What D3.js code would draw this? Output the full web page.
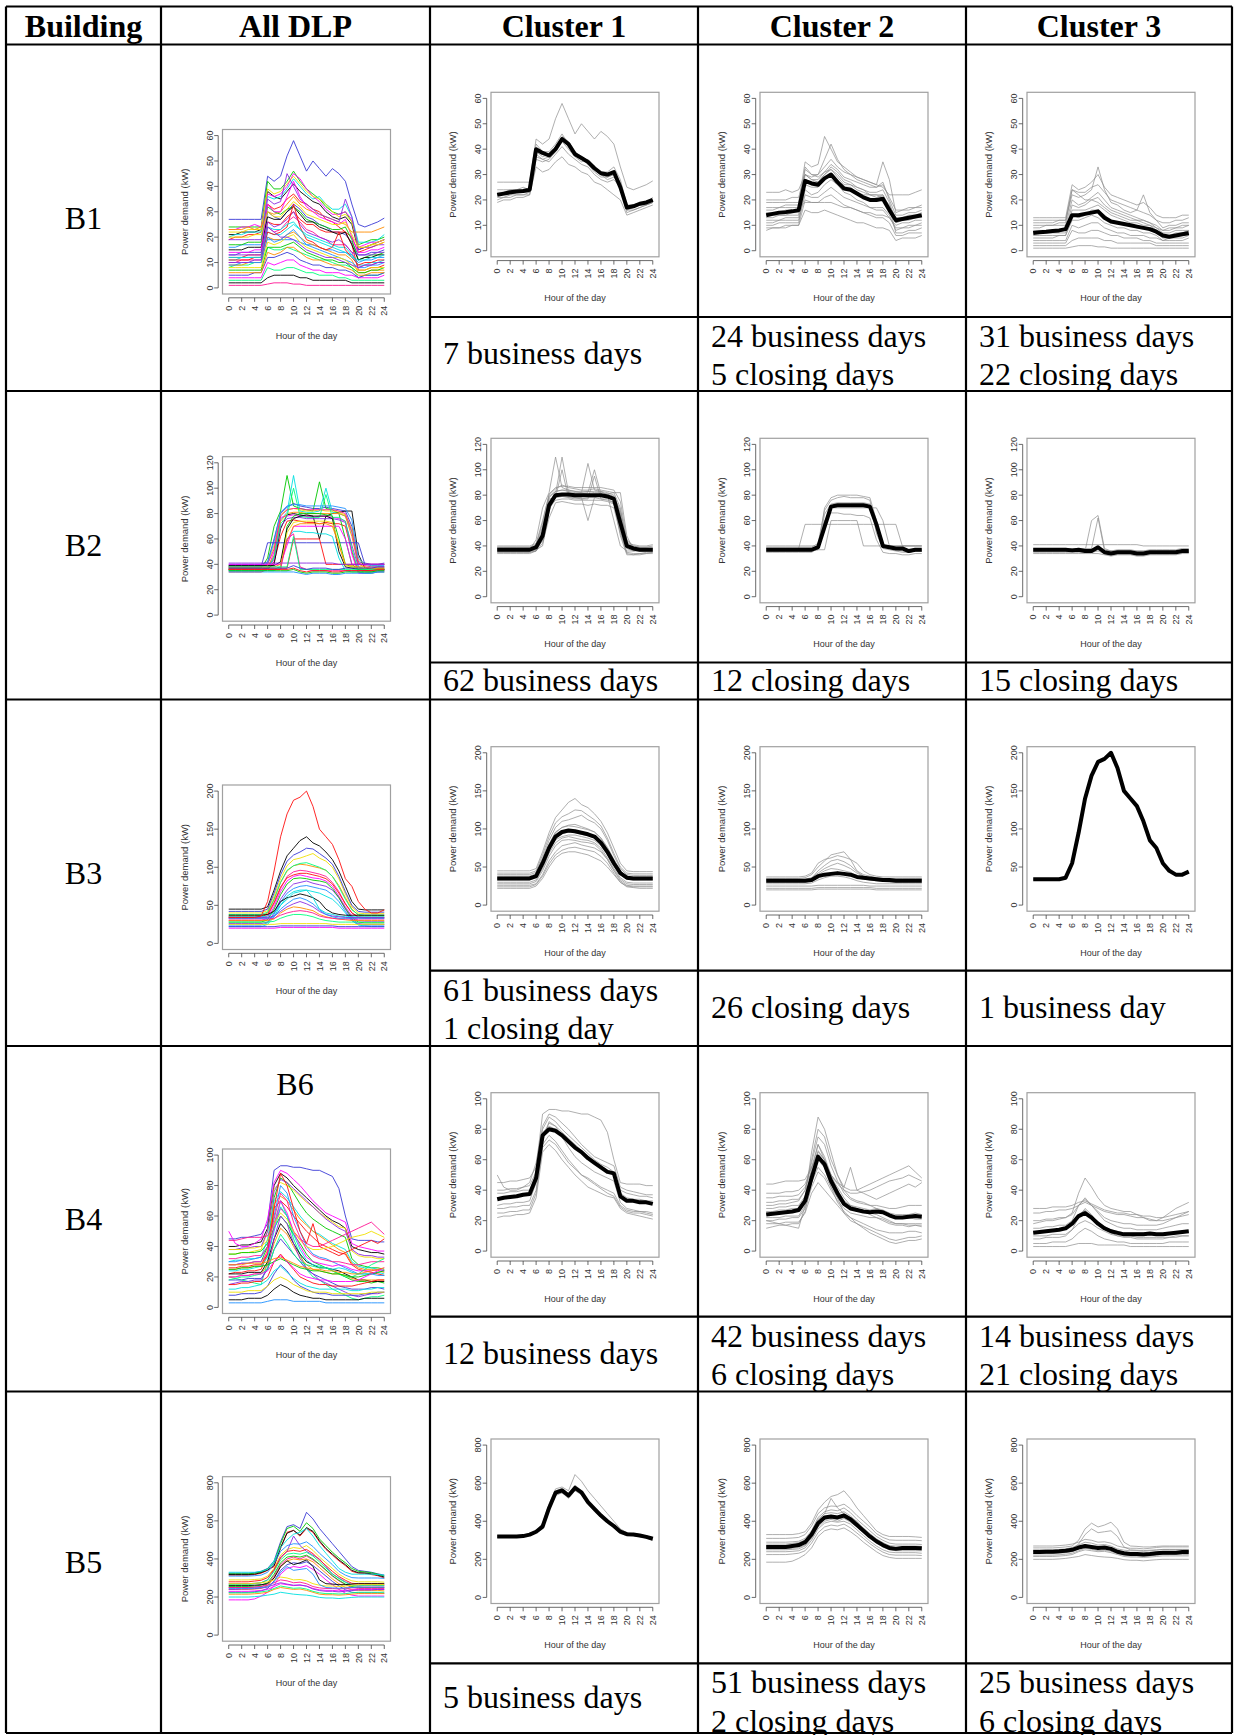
<!DOCTYPE html>
<html>
<head>
<meta charset="utf-8">
<script src="https://cdn.jsdelivr.net/npm/d3@7"></script>
<style>
body { margin: 0; background: #fff; }
svg text { font-family: "Liberation Sans", Arial, sans-serif; }
.tbl { font-family: "Liberation Serif", "Times New Roman", serif; font-size: 32px; fill: #000; }
</style>
</head>
<body>
<svg id="fig" width="1234" height="1735"></svg>
<script>
// ---- table text ----
var headers = ["Building", "All DLP", "Cluster 1", "Cluster 2", "Cluster 3"];
var buildings = ["B1", "B2", "B3", "B4", "B5"];
var notes = [
  [["7 business days"], ["24 business days", "5 closing days"], ["31 business days", "22 closing days"]],
  [["62 business days"], ["12 closing days"], ["15 closing days"]],
  [["61 business days", "1 closing day"], ["26 closing days"], ["1 business day"]],
  [["12 business days"], ["42 business days", "6 closing days"], ["14 business days", "21 closing days"]],
  [["5 business days"], ["51 business days", "2 closing days"], ["25 business days", "6 closing days"]]
];

// ---- axes ----
var hours = [0,1,2,3,4,5,6,7,8,9,10,11,12,13,14,15,16,17,18,19,20,21,22,23,24];
var xTicks = [0,2,4,6,8,10,12,14,16,18,20,22,24];
var yMax = [60, 120, 200, 100, 800];
var yStep = [10, 20, 50, 20, 200];

// ---- B1 ----
var b1c1Mean = [22,22.5,23,23.3,23.5,24,40,38.5,37.5,40,44,42,38,36.5,35,32.5,30.5,30,31,25,17,17.5,18.5,19,20];
var b1c1Days = [
  [27,27,27,27,27,27,44,42,44,52,58,52,46,50,47,44,47,45,42,33,25,24,25,26,27.5],
  [19,20,20,21,21,22,33,31,32,35,37,34,33,31,30,27,26,24,22,20,14,15,16,17,18],
  [24,24,24,24,24,24,42,39,39,42,46,42,39,37,35,32,30,29,30,26,17,18,19,19,20],
  [21,21,22,22,22,23,38,36,35,38,41,38,36,34,33,30,28,27,28,25,15,16,17,18,19],
  [20,21,21,22,22,22,36,35,36,39,43,40,37,35,36,33,31,31,33,28,18,18,18,19,21],
  [23,23,24,24,25,24,37,36,37,40,45,43,39,36,34,31,29,29,30,27,16,17,18,18,19],
  [22,22,22,23,23,23,39,37,38,41,44,41,38,36,35,33,30,28,29,26,16,16,17,18,19]
];
var b1c2Mean = [14,14.5,15,15.2,15.5,16,27.5,26.5,26,28.5,30,27,24.5,24,22.5,21,20,20,20.5,16,12,12.5,13,13.5,14];
var b1c2Days = [
  [23,23,23,24,23,24,30,29,30,33,36,33,31,30,29,28,27,26,25,22,22,22,22,23,24],
  [19,19,19,19,19,19,35,33,34,45,40,35,33,31,29,28,27,26,35,28,15,16,16,17,17],
  [10,10,11,11,11,11,24,22,23,26,28,26,23,22,20,19,17,17,17,14,8,9,9,10,10],
  [8,9,9,9,10,10,16,15,15,16,15,14,13,12,11,11,10,9,9,8,4,5,5,5,6],
  [16,16,17,17,17,17,19,19,19,19,19,18,17,17,16,15,15,14,14,13,10,11,11,12,12],
  [13,13,14,14,14,14,30,28,27,30,33,31,28,27,25,24,22,22,21,18,13,13,14,14,15],
  [12,12,12,13,13,13,26,25,25,28,30,27,25,25,23,22,22,22,22,17,7,7,8,8,9],
  [17,17,17,18,18,18,32,30,29,31,32,30,27,26,25,24,23,23,24,19,11,12,13,13,14],
  [15,15,15,16,16,16,28,27,27,30,32,29,26,26,24,23,22,21,22,17,11,12,12,13,13],
  [11,11,12,12,12,12,22,21,21,23,25,23,21,20,19,18,17,16,16,13,9,9,10,10,11],
  [14,14,14,14,15,15,33,30,30,36,42,36,32,30,28,27,26,25,27,20,14,14,15,15,16],
  [20,20,20,20,21,21,30,28,28,31,34,32,29,28,27,26,25,25,26,21,16,16,17,17,18],
  [9,9,9,10,10,10,20,19,19,21,22,20,18,17,16,15,14,13,13,11,6,6,7,7,7]
];
var b1c3Mean = [7,7.3,7.5,7.8,8,8.5,14,14,14.5,15,15.5,13,11.5,11,10.5,10,9.5,9,8.5,7.5,6,5.5,6,6.5,7];
var b1c3Days = [
  [13,13,13,13,13,13,26,24,25,27,30,25,22,21,20,19,18,19,17,14,13,13,13,14,14],
  [1,1,1,1,1,1,1.5,2,2,2,1.5,1.5,1,1,1,1,1,1,1,1,1,1,1,1,1],
  [3,3,3,3,3,3,8,7,7,8,8,7,6,6,5,5,5,4,4,3,3,3,3,3,3],
  [9,9,10,10,10,10,20,18,19,21,23,20,17,16,15,14,13,12,11,10,8,8,9,9,10],
  [5,5,5,5,6,6,12,12,13,14,13,11,10,9,9,8,8,7,7,6,4,5,5,5,6],
  [11,11,11,11,12,12,22,21,22,24,33,24,19,18,16,15,16,22,15,12,9,10,10,11,11],
  [7,7,7,7,7,7,16,16,16,17,18,16,14,13,12,11,11,10,10,8,6,6,7,7,8],
  [2,2,2,2,2,2,4,5,5,5,5,4,4,3,3,3,3,3,3,2,2,2,2,2,2],
  [12,12,12,12,12,12,24,23,23,25,26,23,20,19,18,17,16,15,14,12,11,11,12,12,13],
  [4,4,4,4,4,4,10,9,10,11,11,9,8,7,7,6,6,6,5,5,4,4,4,4,5],
  [8,8,8,8,8,8,18,17,18,20,21,18,16,15,14,13,12,12,11,9,7,7,8,8,8],
  [6,6,6,6,6,6,14,13,14,16,16,14,12,11,11,10,9,9,8,7,5,5,6,6,6],
  [10,10,10,10,11,11,24,22,20,20,19,17,15,14,13,12,12,11,10,9,8,9,9,10,10]
];

// ---- B2 ----
var b2c1Mean = [37,37,37,37,37,37,39,48,72,80,80.5,80.5,80,80,80,80,80,79,77,58,40,38,37,37,37];
var b2c1Days = [
  [40,40,40,40,40,40,42,60,80,85,88,86,85,84,84,85,84,83,82,70,42,41,40,40,41],
  [34,34,34,34,34,34,36,42,62,74,75,74,73,73,72,73,72,72,70,50,34,33,33,34,34],
  [37,37,37,37,37,37,45,70,82,110,86,84,83,82,105,84,83,80,60,40,36,36,37,37,37],
  [36,36,36,36,36,36,37,40,68,79,80,79,78,78,60,78,80,81,82,82,48,37,36,36,36],
  [38,38,38,38,38,38,38,45,75,81,110,82,81,81,82,100,81,80,78,65,38,37,38,38,38],
  [35,35,35,35,35,35,36,50,77,78,79,78,78,77,78,78,77,76,74,48,33,33,34,34,35],
  [39,39,39,39,39,39,40,55,79,83,84,83,82,82,83,82,82,81,79,68,44,40,39,39,40],
  [37,37,37,37,37,37,38,47,74,80,81,81,80,80,80,80,80,80,78,62,40,38,37,37,37],
  [36,36,36,36,36,36,37,44,70,76,77,77,76,76,76,76,76,75,73,55,38,36,36,36,36],
  [38,38,38,38,38,38,40,52,78,83,84,84,83,83,83,83,83,82,80,66,41,39,38,38,38],
  [35,35,35,35,35,35,36,46,72,78,100,78,77,77,77,95,77,77,74,52,35,34,34,35,35],
  [39,39,39,39,39,39,41,58,81,86,87,87,86,86,86,86,86,85,84,75,45,40,39,39,39]
];
var b2c2Mean = [37,37,37,37,37,37,37,37,39,55,71,72,72,72,72,72,71,57,40,39,38,38,36,37,37];
var b2c2Days = [
  [38,38,38,38,38,38,57,57,57,57,57,57,57,57,57,57,57,57,57,57,57,40,40,40,40],
  [37,37,37,37,37,37,37,37,37,37,60,60,60,60,60,40,40,40,40,40,40,40,40,40,40],
  [36,36,36,36,36,36,36,36,38,70,78,80,80,80,80,79,78,60,40,38,37,36,35,36,36],
  [39,39,39,39,39,39,39,39,42,68,76,78,79,78,78,78,76,50,38,37,36,35,35,36,36],
  [35,35,35,35,35,35,35,35,38,60,66,66,65,65,64,64,62,45,35,34,34,33,33,34,34],
  [40,40,40,40,40,40,40,40,40,55,70,70,70,70,70,70,70,70,60,40,40,40,40,40,40],
  [36,36,36,36,36,36,36,36,37,65,73,74,74,74,74,74,73,56,39,38,37,37,35,36,36],
  [38,38,38,38,38,38,38,38,40,58,70,72,72,72,72,72,70,55,40,39,38,38,36,37,37]
];
var b2c3Mean = [37,37,37,37,37,37,36.5,37,36,36,39,35,34,35,35,35,34,34,35,35,35,35,35,36,36];
var b2c3Days = [
  [41,41,41,41,41,41,41,41,41,41,41,41,41,41,41,41,41,40,40,40,40,40,40,40,40],
  [36,36,36,36,36,36,36,36,36,60,64,38,36,35,35,35,35,35,35,35,35,35,35,35,35],
  [38,38,38,38,38,38,38,38,38,38,62,36,36,36,36,36,36,36,36,36,36,36,36,36,36],
  [34,34,34,34,34,34,34,34,34,34,34,33,32,33,33,33,32,32,33,33,33,33,33,34,34],
  [37,37,37,37,37,37,37,37,37,37,39,37,36,37,37,37,36,36,37,37,37,37,37,38,38],
  [36,36,36,36,36,36,36,36,36,36,37,35,34,35,35,35,34,34,35,35,35,35,35,36,36],
  [35,35,35,35,35,35,35,35,35,35,36,34,33,34,34,34,33,33,34,34,34,34,34,35,35]
];

// ---- B3 ----
var b3c1Mean = [35,35,35,35,35,35,38,55,75,90,96,98,97,95,93,90,82,70,55,42,36,35,35,35,35];
var b3c1Days = [
  [45,45,45,45,45,45,48,70,95,115,125,135,140,132,128,120,110,95,75,55,45,44,44,44,44],
  [22,22,22,22,22,22,25,35,50,62,68,70,70,68,66,62,58,50,40,30,24,23,22,22,22],
  [30,30,30,30,30,30,33,48,68,82,88,90,88,86,85,82,75,62,48,36,30,29,29,29,29],
  [40,40,40,40,40,40,43,62,85,102,110,112,115,118,112,108,100,85,65,48,40,39,39,39,39],
  [36,36,36,36,36,36,40,58,80,95,102,104,103,101,99,96,88,76,60,45,37,36,36,36,36],
  [26,26,26,26,26,26,28,40,58,70,78,80,82,79,77,75,70,60,45,32,26,25,25,25,25],
  [33,33,33,33,33,33,36,52,72,88,94,96,95,93,91,88,80,68,52,40,34,33,33,33,33],
  [38,38,38,38,38,38,41,58,80,96,102,105,106,103,100,96,88,74,58,44,38,37,37,37,37],
  [24,24,24,24,24,24,27,38,54,66,72,75,76,74,72,70,64,55,42,30,25,24,24,24,24],
  [42,42,42,42,42,42,45,66,90,108,116,120,125,124,118,112,104,88,68,50,42,41,41,41,41],
  [35,35,35,35,35,35,38,54,74,86,90,92,92,90,88,85,78,66,52,40,35,34,34,34,34],
  [28,28,28,28,28,28,31,45,64,78,85,86,85,83,82,80,72,60,46,34,28,27,27,27,27]
];
var b3c2Mean = [32,32,32,32,32,32,32,33,38,40,41,42,41,40,37,36,35,34,33,33,32,32,32,32,32];
var b3c2Days = [
  [37,37,37,37,37,37,38,42,55,60,62,65,63,60,55,45,40,38,37,37,37,37,37,37,37],
  [35,35,35,35,35,35,36,40,50,58,66,68,70,60,45,40,38,36,35,35,35,35,35,35,35],
  [20,20,20,20,20,20,20,20,21,21,21,21,21,21,21,21,21,20,20,20,20,20,20,20,20],
  [25,25,25,25,25,25,25,25,26,26,26,26,26,26,26,26,25,25,25,25,25,25,25,25,25],
  [30,30,30,30,30,30,30,32,40,45,48,47,45,43,38,35,33,32,31,30,30,30,30,30,30],
  [34,34,34,34,34,34,34,36,42,48,52,55,52,48,42,38,36,35,34,34,34,34,34,34,34],
  [32,32,32,32,32,32,32,33,37,40,42,43,42,40,36,34,33,32,32,32,32,32,32,32,32],
  [28,28,28,28,28,28,28,29,33,36,38,38,37,35,32,30,29,28,28,28,28,28,28,28,28],
  [33,33,33,33,33,33,33,35,45,52,58,60,57,52,44,38,35,33,33,33,33,33,33,33,33],
  [22,22,22,22,22,22,22,22,23,23,23,23,23,23,23,23,23,22,22,22,22,22,22,22,22]
];
var b3c3Mean = [34,34,34,34,34,36,55,95,140,170,188,192,200,180,150,140,130,110,85,75,55,45,40,40,44];
var b3c3Days = [
  [34,34,34,34,34,36,55,95,140,170,188,192,200,180,150,140,130,110,85,75,55,45,40,40,44]
];

// ---- B4 ----
var b4c1Mean = [34,35,35.5,36,37,37.5,48,76,80,79,76,72,68,65,61,58,55,52,51,36,33,33,32,32,31];
var b4c1Days = [
  [45,45,46,46,47,48,55,90,93,93,92,92,91,90,90,88,86,78,60,45,44,44,44,43,43],
  [22,23,23,24,24,25,35,65,70,66,60,55,50,46,42,40,38,36,35,28,25,24,23,22,21],
  [28,28,29,29,30,30,40,72,85,82,75,68,62,58,55,52,50,48,46,32,28,27,26,26,25],
  [40,40,41,41,42,43,52,80,88,85,80,76,72,68,64,60,57,55,52,40,38,37,36,36,35],
  [30,31,31,32,32,33,45,70,76,72,66,60,55,50,48,45,42,40,38,30,27,26,26,25,24],
  [50,42,40,40,42,45,58,82,90,88,84,80,75,70,66,62,60,58,56,42,40,39,38,37,37],
  [35,35,36,36,37,38,50,78,82,80,77,73,69,66,62,59,56,53,52,37,34,33,33,32,32],
  [25,25,26,26,27,27,38,68,73,70,64,58,54,50,47,44,41,38,36,29,26,25,25,24,23],
  [38,38,39,39,40,40,50,76,84,82,78,74,70,66,62,58,55,52,50,38,35,34,34,33,33]
];
var b4c2Mean = [24,24.5,25,25.5,26,27,33,48,62,57,46,38,31,28,27,26,25.5,26,25.5,23.5,22,22,22.5,23,22.5];
var b4c2Days = [
  [44,44,45,46,46,46,47,55,65,60,50,45,42,40,40,42,44,46,48,50,52,54,56,52,48],
  [20,19,18,17,16,15,30,55,70,60,45,35,25,20,18,15,12,10,8,6,5,6,7,7,8],
  [30,30,31,31,32,33,40,60,80,75,60,50,40,35,33,32,30,28,26,24,22,22,22,21,21],
  [18,18,18,19,19,19,25,38,45,40,35,30,25,22,20,18,16,14,13,12,12,12,13,13,12],
  [26,26,27,27,28,28,35,65,88,80,65,50,42,55,40,38,36,34,36,38,40,42,44,42,45],
  [35,35,36,36,36,37,42,52,60,55,48,42,35,30,28,26,24,22,20,18,17,17,16,17,16],
  [22,22,22,23,23,23,30,45,55,50,42,35,30,28,26,26,25,24,22,20,18,18,17,17,17],
  [24,24,25,25,26,27,33,50,66,60,48,38,31,28,27,26,25,26,25,23,22,22,22,23,22],
  [28,28,29,29,30,30,36,52,70,62,50,40,33,30,29,28,27,28,27,25,24,24,24,25,24],
  [38,38,38,39,39,40,44,55,62,58,50,44,40,38,38,39,40,42,44,46,47,48,50,48,46],
  [20,20,21,21,22,22,28,42,52,48,40,33,28,25,24,23,22,22,21,19,18,18,18,18,18],
  [15,16,17,17,18,18,26,45,60,55,42,32,26,22,18,16,14,12,10,8,7,8,9,9,10],
  [32,32,33,33,34,34,40,58,75,70,56,46,38,34,32,31,30,30,29,28,28,29,30,30,30]
];
var b4c3Mean = [12,12.5,13,13.5,14,15,18,23,25,22,18,15,13,12,11,11,11,11,11.5,11,11,11.5,12,12.5,13];
var b4c3Days = [
  [18,19,20,20,21,22,25,38,48,42,35,30,28,27,26,26,24,22,20,20,22,25,28,30,32],
  [3,3,3,3,3,3,4,5,5,5,4,4,4,4,4,3,3,3,3,3,3,3,3,3,3],
  [8,8,9,9,9,10,14,22,28,24,18,14,12,10,9,9,8,8,8,8,8,9,9,10,10],
  [15,15,16,16,17,17,20,30,35,30,25,20,18,16,15,15,14,14,14,14,15,16,17,18,18],
  [25,25,26,26,27,27,28,30,32,30,28,26,25,24,24,23,22,22,21,20,20,21,22,23,24],
  [5,5,5,6,6,6,8,12,15,13,10,8,7,6,6,5,5,5,5,5,5,6,6,6,6],
  [12,12,13,13,14,15,18,24,27,23,19,16,14,13,12,12,12,12,12,11,11,12,12,13,13],
  [20,20,21,21,22,22,24,30,34,30,26,22,20,19,18,18,17,17,17,17,18,20,22,24,26],
  [10,10,10,11,11,11,14,18,20,18,15,13,11,10,10,10,9,9,9,9,9,9,10,10,10],
  [28,28,28,29,29,29,30,32,33,31,29,27,26,25,25,24,24,23,23,22,22,23,24,25,26]
];

// ---- B5 ----
var b5c1Mean = [320,320,320,320,322,330,345,372,470,550,562,535,575,552,500,465,430,400,375,345,332,330,325,318,308];
var b5c1Days = [
  [325,325,325,325,328,335,350,390,490,570,580,560,645,610,560,520,480,440,400,360,340,335,330,322,315],
  [315,315,315,315,318,325,340,360,455,540,550,520,560,540,490,450,420,390,365,335,325,325,318,312,300],
  [322,322,322,322,325,332,348,380,480,560,572,545,590,560,505,470,435,405,380,350,335,332,328,320,310],
  [318,318,318,318,320,328,342,365,460,535,550,525,565,545,495,455,425,395,370,340,328,326,322,315,305]
];
var b5c2Mean = [265,265,265,265,270,275,290,330,390,420,425,420,430,410,380,350,320,295,275,260,255,260,260,260,258];
var b5c2Days = [
  [330,330,330,330,330,335,345,390,460,500,530,540,560,520,470,430,390,350,330,320,320,320,320,318,315],
  [185,185,185,185,190,205,225,260,320,350,360,355,365,345,320,290,265,240,220,210,205,205,205,205,205],
  [290,290,290,290,292,295,310,350,420,450,460,455,470,445,410,380,350,320,300,285,280,280,280,280,278],
  [240,240,240,240,242,245,260,300,360,390,400,395,400,385,355,325,295,270,250,238,235,235,235,235,232],
  [270,270,270,270,272,275,290,340,410,440,520,470,440,420,400,360,320,300,280,265,262,262,262,260,260],
  [250,250,250,250,252,255,270,310,370,400,410,400,415,395,370,340,310,285,265,250,245,245,245,245,245],
  [265,265,265,265,270,275,290,335,395,425,430,425,435,415,385,352,322,297,277,262,257,262,262,262,260],
  [310,310,310,310,312,315,330,375,440,470,480,478,490,465,430,400,370,335,315,302,300,300,300,300,298],
  [225,225,225,225,228,232,245,285,340,370,380,375,385,365,338,310,282,258,238,225,222,222,222,222,220],
  [280,280,280,280,284,288,302,345,405,440,445,440,450,428,395,365,335,308,288,272,270,270,270,270,268],
  [255,255,255,255,258,262,275,320,380,410,415,410,420,400,372,342,312,288,268,255,250,250,250,250,250]
];
var b5c3Mean = [238,238,240,240,242,245,250,262,270,265,260,262,255,240,232,228,228,225,228,232,235,235,235,238,238];
var b5c3Days = [
  [260,260,260,260,262,265,270,300,360,390,370,380,395,360,290,270,268,265,265,268,270,270,270,270,270],
  [200,200,200,200,202,205,210,215,225,220,215,212,210,205,198,195,195,192,195,198,200,200,200,200,200],
  [230,230,230,230,232,235,240,255,270,265,260,262,258,245,238,235,235,232,235,238,240,240,240,240,240],
  [270,270,270,270,272,275,280,290,305,300,290,292,285,270,262,258,258,255,258,262,265,265,265,265,265],
  [215,215,215,215,217,220,225,240,250,245,240,242,235,225,215,212,212,210,212,215,218,218,218,218,218],
  [240,240,242,242,244,247,252,265,275,268,262,264,257,242,234,230,230,227,230,234,237,237,237,240,240],
  [250,250,250,250,252,255,262,275,290,285,275,278,270,255,248,245,245,242,245,248,252,252,252,252,252],
  [222,222,222,222,224,227,232,245,258,252,246,248,242,230,222,218,218,216,218,222,225,225,225,225,225],
  [245,245,245,245,247,250,255,280,330,360,340,345,350,320,265,250,248,246,248,250,252,252,252,252,252]
];

var means = [
  [b1c1Mean, b1c2Mean, b1c3Mean],
  [b2c1Mean, b2c2Mean, b2c3Mean],
  [b3c1Mean, b3c2Mean, b3c3Mean],
  [b4c1Mean, b4c2Mean, b4c3Mean],
  [b5c1Mean, b5c2Mean, b5c3Mean]
];
var days = [
  [b1c1Days, b1c2Days, b1c3Days],
  [b2c1Days, b2c2Days, b2c3Days],
  [b3c1Days, b3c2Days, b3c3Days],
  [b4c1Days, b4c2Days, b4c3Days],
  [b5c1Days, b5c2Days, b5c3Days]
];

// ---- layout ----
var colX = [6, 161, 430, 698, 966, 1232];
var rowY = [6.5, 44.5, 391, 699.5, 1046, 1391.5, 1733];
var subY = [317, 662.5, 970.7, 1316.7, 1663.3];
var allBoxX = 222.5;
var clusterBoxX = [491, 760, 1027];
var allBoxY = [129.5, 456.7, 785, 1149, 1476.7];
var clusterBoxY = [92.3, 438.3, 746.7, 1092.7, 1439];
var boxW = 168, boxH = 164.5;
var palette = ["#3a3ad6", "#ff1010", "#00c800", "#000000", "#00e0e0", "#ff00ff",
               "#f0e000", "#ff8c00", "#8a2be2", "#ff1493", "#00ff7f", "#1e90ff"];
// B3: single-day cluster drawn red in the All DLP panel
var dlpShift = [0, 0, 3, 0, 0];

var svg = d3.select("#fig");
svg.append("rect").attr("width", 1234).attr("height", 1735).attr("fill", "#fff");

function drawChart(g, bx, by, ymax, ystep, lines, mean, colored, shift) {
  var x = d3.scaleLinear().domain([-0.96, 24.96]).range([bx, bx + boxW]);
  var y = d3.scaleLinear().domain([-0.04 * ymax, 1.04 * ymax]).range([by + boxH, by]);
  var line = d3.line().x(function (d, i) { return x(hours[i]); }).y(function (d) { return y(d); });

  g.append("g").selectAll("path")
    .data(lines).enter()
    .append("path")
    .attr("d", line)
    .attr("fill", "none")
    .attr("stroke", function (d, i) { return colored ? palette[(i + shift) % palette.length] : "#8c8c8c"; })
    .attr("stroke-width", colored ? 0.9 : 0.7)
    .attr("stroke-linejoin", "round");

  if (mean) {
    g.append("path").datum(mean)
      .attr("d", line)
      .attr("fill", "none")
      .attr("stroke", "#000")
      .attr("stroke-width", 4)
      .attr("stroke-linejoin", "round");
  }

  g.append("rect")
    .attr("x", bx).attr("y", by).attr("width", boxW).attr("height", boxH)
    .attr("fill", "none").attr("stroke", "#a0a0a0").attr("stroke-width", 1.2);

  // y axis (R style: spans first to last tick)
  var yt = d3.range(0, ymax + 0.001, ystep);
  var ax = bx - 4.3;
  var ya = g.append("g").attr("stroke", "#444").attr("stroke-width", 0.8);
  ya.append("line").attr("x1", ax).attr("x2", ax).attr("y1", y(0)).attr("y2", y(ymax));
  ya.selectAll(".t").data(yt).enter().append("line")
    .attr("x1", ax - 4).attr("x2", ax).attr("y1", y).attr("y2", y);
  g.selectAll(".yl").data(yt).enter().append("text")
    .attr("transform", function (d) { return "translate(" + (ax - 5.5) + "," + y(d) + ") rotate(-90)"; })
    .attr("text-anchor", "middle")
    .attr("font-size", 9).attr("fill", "#333")
    .text(function (d) { return d; });

  // x axis
  var ay = by + boxH + 3.8;
  var xa = g.append("g").attr("stroke", "#444").attr("stroke-width", 0.8);
  xa.append("line").attr("x1", x(0)).attr("x2", x(24)).attr("y1", ay).attr("y2", ay);
  xa.selectAll(".t").data(xTicks).enter().append("line")
    .attr("x1", x).attr("x2", x).attr("y1", ay).attr("y2", ay + 4);
  g.selectAll(".xl").data(xTicks).enter().append("text")
    .attr("transform", function (d) { return "translate(" + (x(d) + 3.2) + "," + (ay + 8) + ") rotate(-90)"; })
    .attr("text-anchor", "end")
    .attr("font-size", 9).attr("fill", "#333")
    .text(function (d) { return d; });

  g.append("text")
    .attr("transform", "translate(" + (bx - 35) + "," + (by + boxH / 2) + ") rotate(-90)")
    .attr("text-anchor", "middle").attr("font-size", 9.5).attr("fill", "#333")
    .text("Power demand (kW)");
  g.append("text")
    .attr("x", bx + boxW / 2).attr("y", by + boxH + 44.5)
    .attr("text-anchor", "middle").attr("font-size", 9).attr("fill", "#333")
    .text("Hour of the day");
}

// charts
buildings.forEach(function (b, r) {
  var allLines = days[r][0].concat(days[r][1], days[r][2]);
  drawChart(svg.append("g"), allBoxX, allBoxY[r], yMax[r], yStep[r], allLines, null, true, dlpShift[r]);
  for (var c = 0; c < 3; c++) {
    drawChart(svg.append("g"), clusterBoxX[c], clusterBoxY[r], yMax[r], yStep[r], days[r][c], means[r][c], false, 0);
  }
});

// table grid
var grid = svg.append("g").attr("stroke", "#000").attr("stroke-width", 2.2);
rowY.forEach(function (yy) {
  grid.append("line").attr("x1", colX[0]).attr("x2", colX[5]).attr("y1", yy).attr("y2", yy);
});
colX.forEach(function (xx) {
  grid.append("line").attr("x1", xx).attr("x2", xx).attr("y1", rowY[0]).attr("y2", rowY[6]);
});
subY.forEach(function (yy) {
  grid.append("line").attr("x1", colX[2]).attr("x2", colX[5]).attr("y1", yy).attr("y2", yy);
});

// header
headers.forEach(function (h, i) {
  svg.append("text").attr("class", "tbl")
    .attr("x", (colX[i] + colX[i + 1]) / 2).attr("y", 36.5)
    .attr("text-anchor", "middle").attr("font-weight", "bold")
    .text(h);
});

// row labels and notes
buildings.forEach(function (b, r) {
  var top = rowY[r + 1], bot = rowY[r + 2];
  svg.append("text").attr("class", "tbl")
    .attr("x", (colX[0] + colX[1]) / 2).attr("y", (top + bot) / 2 + 11)
    .attr("text-anchor", "middle").text(b);
  notes[r].forEach(function (lines, c) {
    var t = svg.append("text").attr("class", "tbl").attr("x", colX[c + 2] + 13);
    if (lines.length === 1) {
      t.attr("y", (subY[r] + bot) / 2 + 10).text(lines[0]);
    } else {
      lines.forEach(function (s, k) {
        t.append("tspan").attr("x", colX[c + 2] + 13).attr("y", subY[r] + 30 + k * 38.4).text(s);
      });
    }
  });
});

svg.append("text").attr("class", "tbl")
  .attr("x", 295).attr("y", 1095).attr("text-anchor", "middle").text("B6");
</script>
</body>
</html>
